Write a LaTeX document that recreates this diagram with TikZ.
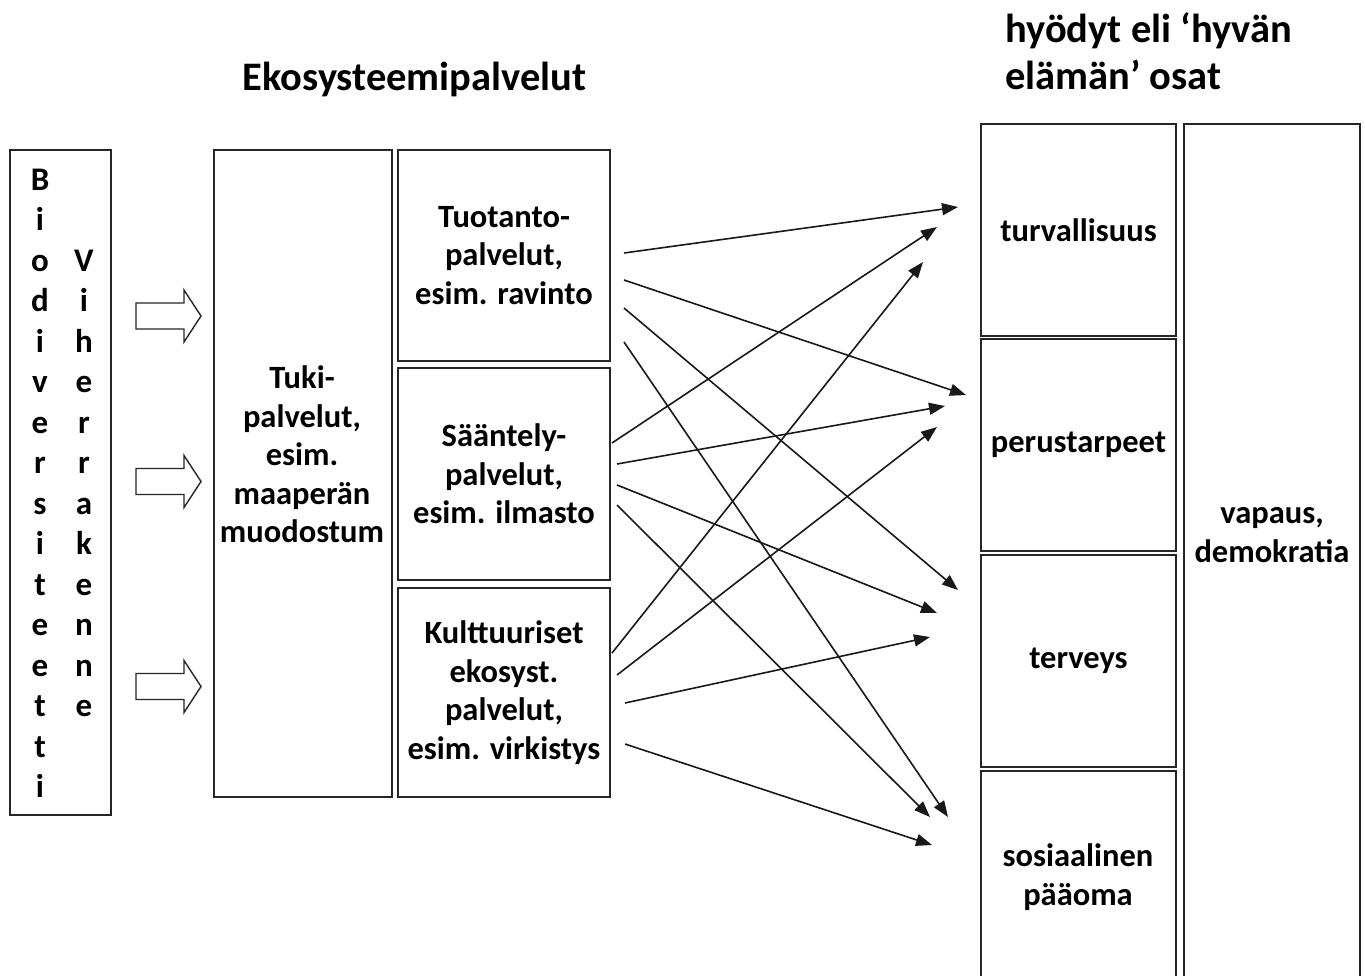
\documentclass[tikz,border=0pt]{standalone}
\usepackage{fontspec}
\setmainfont{Carlito}
\usetikzlibrary{arrows.meta}
\tikzset{
  box/.style={draw=black!85, line width=1.5pt, inner sep=0pt},
  lbl/.style={font=\bfseries\fontsize{32.5}{38.5}\selectfont, align=center, inner sep=0pt, text=black},
  ttl/.style={font=\bfseries\fontsize{40.5}{47}\selectfont, inner sep=0pt, text=black},
  ltr/.style={font=\bfseries\fontsize{33}{38.5}\selectfont, inner sep=0pt, anchor=base, text=black},
  conn/.style={line width=1.6pt, draw=black!90, -{Triangle[length=16pt,width=12pt]}},
  blockarr/.style={draw=black!85, line width=1.4pt, fill=white},
}
\begin{document}
\begin{tikzpicture}[x=1pt,y=-1pt]
\clip (0,0) rectangle (1365,975);
\fill[white] (0,0) rectangle (1365,975);

% titles
\node[ttl] (t1) at (414.5,79) {Ekosysteemipalvelut};
\node[ttl, anchor=west, align=left] (t2) at (1005,51) {hyödyt eli ‘hyvän\\elämän’ osat};

% left box
\node[box, minimum width=101pt, minimum height=665pt] (left) at (60.5,482.5) {};
\foreach \c [count=\k from 0] in {B,i,o,d,i,v,e,r,s,i,t,e,e,t,t,i}
  \node[ltr] (b\k) at (40,190+40.5*\k) {\c};
\foreach \c [count=\k from 0] in {V,i,h,e,r,r,a,k,e,n,n,e}
  \node[ltr] (v\k) at (84,271+40.5*\k) {\c};

% block arrows
\foreach \c in {316,481.5,686.5}
  \draw[blockarr] (136,\c-13) -- (184,\c-13) -- (184,\c-26) -- (201,\c) -- (184,\c+26) -- (184,\c+13) -- (136,\c+13) -- cycle;

% middle boxes
\node[box, minimum width=178pt, minimum height=647pt] (tuki) at (303,473.5) {};
\node[lbl] (tukit) at (302,454.5) {Tuki-\\palvelut,\\esim.\\maaperän\\muodostum};
\node[box, lbl, minimum width=212pt, minimum height=211pt] (tuot) at (504,255.5) {Tuotanto-\\palvelut,\\esim. ravinto};
\node[box, lbl, minimum width=212pt, minimum height=212pt] (saan) at (504,474) {Sääntely-\\palvelut,\\esim. ilmasto};
\node[box, lbl, minimum width=212pt, minimum height=209pt] (kult) at (504,692.5) {Kulttuuriset\\ekosyst.\\palvelut,\\esim. virkistys};

% right boxes
\node[box, lbl, minimum width=195pt, minimum height=212pt] (turv) at (1078.5,230) {turvallisuus};
\node[box, lbl, minimum width=195pt, minimum height=212pt] (peru) at (1078.5,445) {perustarpeet};
\node[box, lbl, minimum width=195pt, minimum height=212pt] (terv) at (1078.5,661) {terveys};
\node[box, minimum width=195pt, minimum height=214pt] (sosi) at (1078.5,878) {};
\node[lbl] (sosit) at (1078,877) {sosiaalinen\\pääoma};
\node[box, minimum width=176pt, minimum height=861pt] (vapa) at (1272,554.5) {};
\node[lbl] (vapat) at (1272,535) {vapaus,\\demokratia};

% connector end points
\foreach \n/\sx/\sy/\ex/\ey in {
  1/624/253/958/207,
  2/624/280/966/395,
  3/624/308/958/590,
  4/624/342/948/817,
  5/612/443/937/227,
  6/617/464/945/406,
  7/617/485/937/613,
  8/617/505/930/817,
  9/612/653/923/262,
  10/617/675/937/427,
  11/625/703/930/637,
  12/625/744/932/845}{
  \coordinate (s\n) at (\sx,\sy);
  \coordinate (e\n) at (\ex,\ey);
  \draw[conn] (s\n) -- (e\n);
}
\end{tikzpicture}
\end{document}
